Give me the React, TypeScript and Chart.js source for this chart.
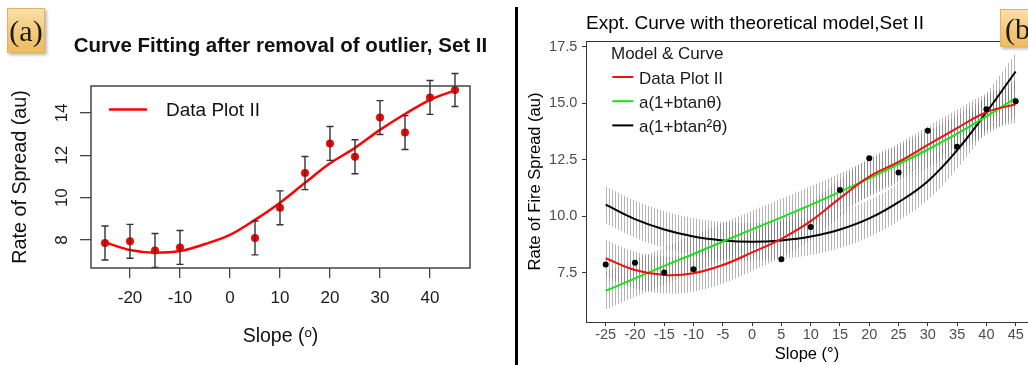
import React, { useEffect, useRef } from "react";
import { Chart, registerables } from "chart.js";

Chart.register(...registerables);

const FONT = "'Liberation Sans', Arial, Helvetica, sans-serif";

// ---- Data ----
const slopes = [-25, -20, -15, -10, 5, 10, 15, 20, 25, 30, 35, 40, 45];
const spreadRate = [7.86, 7.94, 7.51, 7.65, 8.1, 9.52, 11.16, 12.56, 11.93, 13.78, 13.07, 14.73, 15.08];
const spreadErr = [0.8, 0.8, 0.8, 0.8, 0.8, 0.8, 0.78, 0.8, 0.8, 0.8, 0.8, 0.8, 0.78];

const fitSlopes = [-25, -20, -15, -10, -5, 0, 5, 10, 15, 20, 25, 30, 35, 40, 45];
const fitCurveA = [7.89, 7.53, 7.4, 7.48, 7.81, 8.24, 8.95, 9.76, 10.7, 11.62, 12.35, 13.2, 13.95, 14.62, 15.06];
const dataPlotB = [8.14, 7.62, 7.4, 7.48, 7.84, 8.4, 9.0, 9.78, 10.8, 11.75, 12.4, 13.15, 13.9, 14.6, 14.95];
const tanModel = [6.7, 7.25, 7.8, 8.33, 8.88, 9.42, 9.95, 10.5, 11.08, 11.68, 12.3, 12.95, 13.65, 14.42, 15.22];
const tan2Model = [10.51, 9.87, 9.41, 9.1, 8.93, 8.87, 8.93, 9.1, 9.41, 9.9, 10.62, 11.55, 12.92, 14.6, 16.4];
const bandHalf = [0.82, 0.82, 0.82, 0.82, 0.82, 0.82, 0.82, 0.82, 0.82, 0.82, 0.82, 0.82, 0.82, 0.82, 0.82];

const xTicksA = [-20, -10, 0, 10, 20, 30, 40];
const yTicksA = [8, 10, 12, 14];
const xTicksB = [-25, -20, -15, -10, -5, 0, 5, 10, 15, 20, 25, 30, 35, 40, 45];
const yTicksB = [7.5, 10, 12.5, 15, 17.5];

const titleA = "Curve Fitting after removal of outlier, Set II";
const titleB = "Expt. Curve with theoretical model,Set II";
const legendTitleB = "Model & Curve";
const legendLabelsB = ["Data Plot II", "a(1+btanθ)", "a(1+btan²θ)"];
const legendColorsB = ["#f01010", "#14e614", "#000000"];

const pts = (xs: number[], ys: number[]) => xs.map((x, i) => ({ x, y: ys[i] }));
const plus = (a: number[], b: number[]) => a.map((v, i) => v + b[i]);
const minus = (a: number[], b: number[]) => a.map((v, i) => v - b[i]);

function makeDecorA() {
  return {
    id: "decorA",
    afterDatasetsDraw(chart: any) {
      const { ctx, scales } = chart;
      const x = scales.x, y = scales.y;
      ctx.save();
      ctx.strokeStyle = "#333";
      ctx.lineWidth = 1.4;
      slopes.forEach((s, i) => {
        const px = x.getPixelForValue(s);
        const top = y.getPixelForValue(spreadRate[i] + spreadErr[i]);
        const bot = y.getPixelForValue(spreadRate[i] - spreadErr[i]);
        ctx.beginPath();
        ctx.moveTo(px, top);
        ctx.lineTo(px, bot);
        ctx.moveTo(px - 3.5, top);
        ctx.lineTo(px + 3.5, top);
        ctx.moveTo(px - 3.5, bot);
        ctx.lineTo(px + 3.5, bot);
        ctx.stroke();
      });
      ctx.restore();
    },
    afterDraw(chart: any) {
      const { ctx, chartArea: ca, scales } = chart;
      const y = scales.y;
      ctx.save();
      ctx.strokeStyle = "#444";
      ctx.lineWidth = 1.5;
      ctx.strokeRect(ca.left, ca.top, ca.right - ca.left, ca.bottom - ca.top);
      // title
      ctx.fillStyle = "#111";
      ctx.font = `bold 20.5px ${FONT}`;
      ctx.textAlign = "center";
      ctx.textBaseline = "middle";
      ctx.fillText(titleA, (ca.left + ca.right) / 2, 46);
      // legend
      ctx.strokeStyle = "#ff0000";
      ctx.lineWidth = 2.5;
      ctx.beginPath();
      ctx.moveTo(ca.left + 18, 109.5);
      ctx.lineTo(ca.left + 56, 109.5);
      ctx.stroke();
      ctx.font = `19px ${FONT}`;
      ctx.textAlign = "left";
      ctx.fillStyle = "#111";
      ctx.fillText("Data Plot II", ca.left + 75, 111);
      // rotated y tick labels
      ctx.font = `17px ${FONT}`;
      ctx.textAlign = "center";
      ctx.fillStyle = "#1a1a1a";
      yTicksA.forEach((v) => {
        const py = y.getPixelForValue(v);
        ctx.save();
        ctx.translate(62.4, py);
        ctx.rotate(-Math.PI / 2);
        ctx.fillText(String(v), 0, 0);
        ctx.restore();
      });
      ctx.restore();
    },
  };
}

function makeDecorB() {
  return {
    id: "decorB",
    afterDraw(chart: any) {
      const { ctx, chartArea: ca } = chart;
      ctx.save();
      // top border
      ctx.strokeStyle = "#333";
      ctx.lineWidth = 1;
      ctx.beginPath();
      ctx.moveTo(ca.left, ca.top + 0.5);
      ctx.lineTo(ca.right, ca.top + 0.5);
      ctx.stroke();
      // title
      ctx.fillStyle = "#000";
      ctx.font = `19px ${FONT}`;
      ctx.textAlign = "left";
      ctx.textBaseline = "middle";
      ctx.fillText(titleB, ca.left, 23.4);
      // legend
      ctx.font = `17px ${FONT}`;
      ctx.fillStyle = "#1a1a1a";
      ctx.fillText(legendTitleB, ca.left + 25, 54);
      legendLabelsB.forEach((lab, i) => {
        const yy = 79 + i * 24.2;
        ctx.strokeStyle = legendColorsB[i];
        ctx.lineWidth = 2;
        ctx.beginPath();
        ctx.moveTo(ca.left + 26.3, yy - 2);
        ctx.lineTo(ca.left + 47.3, yy - 2);
        ctx.stroke();
        ctx.fillStyle = "#1a1a1a";
        ctx.fillText(lab, ca.left + 53, yy);
      });
      ctx.restore();
    },
  };
}

export default function App() {
  const refA = useRef<HTMLCanvasElement>(null);
  const refB = useRef<HTMLCanvasElement>(null);

  useEffect(() => {
    document.body.style.margin = "0";
    // hatch pattern for the confidence ribbons
    const pc = document.createElement("canvas");
    pc.width = 3;
    pc.height = 4;
    const pctx = pc.getContext("2d")!;
    pctx.fillStyle = "rgba(110,110,110,0.5)";
    pctx.fillRect(0, 0, 1, 4);

    const chartA = new Chart(refA.current!, {
      type: "line",
      data: {
        datasets: [
          {
            data: pts(slopes, spreadRate),
            showLine: false,
            pointRadius: 4,
            pointBackgroundColor: "#ff0000",
            pointBorderWidth: 0,
            borderColor: "#ff0000",
            order: 0,
          },
          {
            data: pts(fitSlopes, fitCurveA),
            borderColor: "#ff0000",
            borderWidth: 2.5,
            pointRadius: 0,
            cubicInterpolationMode: "monotone",
            order: 1,
          },
        ],
      },
      options: {
        animation: false,
        responsive: false,
        devicePixelRatio: 1,
        events: [],
        layout: { padding: { top: 86, left: 0, right: 40, bottom: 0 }, autoPadding: false },
        plugins: { legend: { display: false }, tooltip: { enabled: false } },
        scales: {
          x: {
            type: "linear",
            min: -27.8,
            max: 48,
            afterBuildTicks: (s: any) => {
              s.ticks = xTicksA.map((v) => ({ value: v }));
            },
            afterFit: (s: any) => {
              s.height = 97;
            },
            ticks: { font: { family: FONT, size: 17 }, color: "#1a1a1a", padding: 9.9, maxRotation: 0, autoSkip: false },
            grid: { drawOnChartArea: false, tickLength: 10, color: "#444", lineWidth: 1.3 },
            border: { display: false },
            title: { display: true, text: "Slope (ᵒ)", font: { family: FONT, size: 19.5 }, color: "#111", padding: { top: 0, bottom: 16.8 } },
          },
          y: {
            type: "linear",
            min: 6.68,
            max: 15.27,
            afterBuildTicks: (s: any) => {
              s.ticks = yTicksA.map((v) => ({ value: v }));
            },
            afterFit: (s: any) => {
              s.width = 91;
            },
            ticks: { display: false },
            grid: { drawOnChartArea: false, tickLength: 11, color: "#444", lineWidth: 1.3 },
            border: { display: false },
            title: { display: true, text: "Rate of Spread (au)", font: { family: FONT, size: 19.8 }, color: "#111", padding: { top: 8.2, bottom: 0 } },
          },
        },
      },
      plugins: [makeDecorA() as any],
    });

    const hatch = refB.current!.getContext("2d")!.createPattern(pc, "repeat")!;
    const lineDs = (ys: number[], color: string, order: number) => ({
      data: pts(fitSlopes, ys),
      borderColor: color,
      borderWidth: 2,
      pointRadius: 0,
      tension: 0.4,
      fill: false,
      order,
    });
    const bandDs = (ys: number[], target: number | false) => ({
      data: pts(fitSlopes, ys),
      borderWidth: 0,
      borderColor: "rgba(0,0,0,0)",
      backgroundColor: hatch,
      pointRadius: 0,
      tension: 0.4,
      fill: target === false ? false : { target },
      order: 10,
    });

    const chartB = new Chart(refB.current!, {
      type: "line",
      data: {
        datasets: [
          {
            data: pts(slopes, spreadRate),
            showLine: false,
            pointRadius: 3,
            pointBackgroundColor: "#000",
            pointBorderWidth: 0,
            borderColor: "#000",
            order: 0,
          },
          lineDs(dataPlotB, legendColorsB[0], 1),
          lineDs(tanModel, legendColorsB[1], 2),
          lineDs(tan2Model, legendColorsB[2], 3),
          bandDs(plus(dataPlotB, bandHalf), 5),
          bandDs(minus(dataPlotB, bandHalf), false),
          bandDs(plus(tanModel, bandHalf), 7),
          bandDs(minus(tanModel, bandHalf), false),
          bandDs(plus(tan2Model, bandHalf), 9),
          bandDs(minus(tan2Model, bandHalf), false),
        ] as any,
      },
      options: {
        animation: false,
        responsive: false,
        devicePixelRatio: 1,
        events: [],
        layout: { padding: { top: 41, left: 0, right: 0, bottom: 0 }, autoPadding: false },
        plugins: { legend: { display: false }, tooltip: { enabled: false }, filler: { propagate: false } },
        scales: {
          x: {
            type: "linear",
            min: -28.36,
            max: 47.1,
            afterBuildTicks: (s: any) => {
              s.ticks = xTicksB.map((v) => ({ value: v }));
            },
            afterFit: (s: any) => {
              s.height = 43;
            },
            ticks: { font: { family: FONT, size: 14.5 }, color: "#4d4d4d", padding: 0.3, maxRotation: 0, autoSkip: false },
            grid: { drawOnChartArea: false, tickLength: 4, color: "#333", lineWidth: 1 },
            border: { display: true, color: "#333", width: 1 },
            title: { display: true, text: "Slope (°)", font: { family: FONT, size: 16.5 }, color: "#000", padding: { top: 0, bottom: 0.8 } },
          },
          y: {
            type: "linear",
            min: 5.32,
            max: 17.75,
            afterBuildTicks: (s: any) => {
              s.ticks = yTicksB.map((v) => ({ value: v }));
            },
            afterFit: (s: any) => {
              s.width = 67;
            },
            ticks: {
              font: { family: FONT, size: 14.5 },
              color: "#4d4d4d",
              padding: 4.7,
              callback: (v: any) => Number(v).toFixed(1),
            },
            grid: { drawOnChartArea: false, tickLength: 4, color: "#333", lineWidth: 1 },
            border: { display: true, color: "#333", width: 1 },
            title: { display: true, text: "Rate of Fire Spread (au)", font: { family: FONT, size: 16.5 }, color: "#000", padding: { top: 6.1, bottom: 0 } },
          },
        },
      },
      plugins: [makeDecorB() as any],
    });

    return () => {
      chartA.destroy();
      chartB.destroy();
    };
  }, []);

  const labelBox: React.CSSProperties = {
    position: "absolute",
    background: "linear-gradient(#fae0a8, #f3c878 55%, #eebc62)",
    border: "1px solid #e2b25e",
    boxShadow: "2px 2px 3px rgba(0,0,0,0.28)",
    fontFamily: "'Liberation Serif', 'Times New Roman', serif",
    fontSize: 30,
    color: "#1a1a1a",
    lineHeight: "44px",
    boxSizing: "border-box",
  };

  return (
    <div style={{ position: "fixed", left: 0, top: 0, width: 1028, height: 365, background: "#fff", overflow: "hidden" }}>
      <canvas ref={refA} width={510} height={365} style={{ position: "absolute", left: 0, top: 0, width: 510, height: 365 }} />
      <canvas ref={refB} width={509} height={365} style={{ position: "absolute", left: 519, top: 0, width: 509, height: 365 }} />
      <div style={{ position: "absolute", left: 515, top: 7, width: 3, height: 358, background: "#000" }} />
      <div style={{ ...labelBox, left: 7, top: 8, width: 38, height: 45, textAlign: "center" }}>(a)</div>
      <div style={{ ...labelBox, left: 1000, top: 9, width: 40, height: 38, lineHeight: "38px", paddingLeft: 4 }}>(b)</div>
    </div>
  );
}
